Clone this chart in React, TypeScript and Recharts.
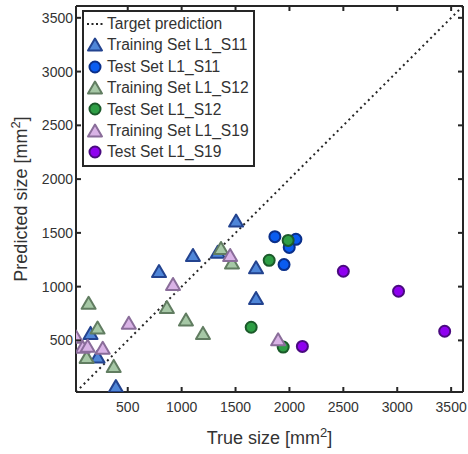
import { Label, Legend, Scatter, ScatterChart, XAxis, YAxis } from 'recharts'

const trainS11 = [
  { x: 1505, y: 1610 }, { x: 1105, y: 1290 }, { x: 790, y: 1140 }, { x: 1335, y: 1320 },
  { x: 1690, y: 1175 }, { x: 1690, y: 890 }, { x: 155, y: 565 }, { x: 220, y: 345 },
  { x: 390, y: 70 },
]
const testS11 = [
  { x: 1865, y: 1465 }, { x: 2060, y: 1440 }, { x: 1998, y: 1365 }, { x: 1950, y: 1205 },
]
const trainS12 = [
  { x: 1365, y: 1355 }, { x: 1467, y: 1220 }, { x: 137, y: 845 }, { x: 863, y: 805 },
  { x: 1040, y: 690 }, { x: 1198, y: 565 }, { x: 220, y: 615 }, { x: 119, y: 342 },
  { x: 370, y: 258 },
]
const testS12 = [
  { x: 1988, y: 1430 }, { x: 1812, y: 1245 }, { x: 1645, y: 622 }, { x: 1942, y: 438 },
]
const trainS19 = [
  { x: 1450, y: 1290 }, { x: 920, y: 1020 }, { x: 510, y: 660 }, { x: 22, y: 530 },
  { x: 82, y: 437 }, { x: 128, y: 446 }, { x: 268, y: 427 }, { x: 1895, y: 505 },
]
const testS19 = [
  { x: 2500, y: 1143 }, { x: 3012, y: 957 }, { x: 3440, y: 585 }, { x: 2120, y: 444 },
]

const ticks = [500, 1000, 1500, 2000, 2500, 3000, 3500]
const domain: [number, number] = [20, 3610]
const targetLine = [{ x: 20, y: 20 }, { x: 3610, y: 3610 }]

const ink = '#262626'
const textInk = '#333'
const font = '"Liberation Sans", Arial, sans-serif'

const series = [
  { name: 'Training Set L1_S11', data: trainS11, shape: 'tri', fill: '#4f86d8', stroke: '#23438f' },
  { name: 'Test Set L1_S11', data: testS11, shape: 'dot', fill: '#0a5cf0', stroke: '#0a2f8a' },
  { name: 'Training Set L1_S12', data: trainS12, shape: 'tri', fill: '#a6c8a6', stroke: '#617d61' },
  { name: 'Test Set L1_S12', data: testS12, shape: 'dot', fill: '#2e9e45', stroke: '#1b5a2a' },
  { name: 'Training Set L1_S19', data: trainS19, shape: 'tri', fill: '#d9b3e6', stroke: '#8a6d9a' },
  { name: 'Test Set L1_S19', data: testS19, shape: 'dot', fill: '#8f00f0', stroke: '#4a0a80' },
]

const marker = (kind: string, fill: string, stroke: string, cx: number, cy: number) =>
  kind === 'tri' ? (
    <path d={`M${cx},${cy - 6.5} L${cx + 7},${cy + 5.5} L${cx - 7},${cy + 5.5} Z`} fill={fill} stroke={stroke} strokeWidth={2} strokeLinejoin="round" />
  ) : (
    <circle cx={cx} cy={cy} r={5.5} fill={fill} stroke={stroke} strokeWidth={2} />
  )

const BottomTick = ({ x, y, payload }: any) => (
  <g>
    <line x1={x} y1={y} x2={x} y2={y - 5} stroke={ink} strokeWidth={2} />
    <text x={x} y={y + 20} textAnchor="middle" fontSize={14} fill={textInk} fontFamily={font}>{payload.value}</text>
  </g>
)
const LeftTick = ({ x, y, payload }: any) => (
  <g>
    <line x1={x} y1={y} x2={x + 5} y2={y} stroke={ink} strokeWidth={2} />
    <text x={x - 3} y={y + 5} textAnchor="end" fontSize={14} fill={textInk} fontFamily={font}>{payload.value}</text>
  </g>
)
const TopTick = ({ x, y }: any) => <line x1={x} y1={y} x2={x} y2={y + 5} stroke={ink} strokeWidth={2} />
const RightTick = ({ x, y }: any) => <line x1={x} y1={y} x2={x - 5} y2={y} stroke={ink} strokeWidth={2} />

function LegendBox() {
  return (
    <div style={{ border: `2px solid ${ink}`, background: '#fff', padding: '1px 4px 2px 3px', fontFamily: font, fontSize: 15.6, color: textInk, lineHeight: '21.4px', whiteSpace: 'nowrap' }}>
      <div style={{ display: 'flex', alignItems: 'center' }}>
        <svg width={18} height={14}><line x1={0} y1={7} x2={16} y2={7} stroke={ink} strokeWidth={2} strokeDasharray="2 2.5" /></svg>
        <span style={{ marginLeft: 2 }}>Target prediction</span>
      </div>
      {series.map((s) => (
        <div key={s.name} style={{ display: 'flex', alignItems: 'center' }}>
          <svg width={18} height={16}>{marker(s.shape, s.fill, s.stroke, 8, 8)}</svg>
          <span style={{ marginLeft: 2 }}>{s.name}</span>
        </div>
      ))}
    </div>
  )
}

export default function App() {
  return (
    <div style={{ position: 'absolute', left: 0, top: 0, background: '#fff' }}>
      <ScatterChart width={468} height={454} margin={{ top: 5, right: 4, bottom: 0, left: 0 }}>
        <XAxis type="number" dataKey="x" domain={domain} ticks={ticks} allowDataOverflow height={62}
          axisLine={{ stroke: ink, strokeWidth: 2 }} tickLine={false} tickSize={0} tickMargin={0} tick={<BottomTick />}>
          <Label content={({ viewBox }: any) => (
            <text x={viewBox.x + viewBox.width / 2} y={viewBox.y + 52} textAnchor="middle" fontSize={18} fill={textInk} fontFamily={font}>
              True size [mm<tspan dy={-7} fontSize={13}>2</tspan><tspan dy={7}>]</tspan>
            </text>
          )} />
        </XAxis>
        <YAxis type="number" dataKey="y" domain={domain} ticks={ticks} allowDataOverflow width={76}
          axisLine={{ stroke: ink, strokeWidth: 2 }} tickLine={false} tickSize={0} tickMargin={0} tick={<LeftTick />}>
          <Label content={({ viewBox }: any) => {
            const cx = viewBox.x + 27
            const cy = viewBox.y + viewBox.height / 2
            return (
              <text x={cx} y={cy} transform={`rotate(-90 ${cx} ${cy})`} textAnchor="middle" fontSize={18} fill={textInk} fontFamily={font}>
                Predicted size [mm<tspan dy={-7} fontSize={13}>2</tspan><tspan dy={7}>]</tspan>
              </text>
            )
          }} />
        </YAxis>
        <XAxis xAxisId="top" orientation="top" type="number" dataKey="x" domain={domain} ticks={ticks} allowDataOverflow height={1}
          axisLine={{ stroke: ink, strokeWidth: 2 }} tickLine={false} tickSize={0} tickMargin={0} tick={<TopTick />} />
        <YAxis yAxisId="right" orientation="right" type="number" dataKey="y" domain={domain} ticks={ticks} allowDataOverflow width={1}
          axisLine={{ stroke: ink, strokeWidth: 2 }} tickLine={false} tickSize={0} tickMargin={0} tick={<RightTick />} />
        <Scatter xAxisId="top" yAxisId="right" name="Target prediction" data={targetLine} isAnimationActive={false}
          line={{ stroke: ink, strokeWidth: 2, strokeDasharray: '2 3.5' }} shape={() => <g />} legendType="none" />
        {series.map((s) => (
          <Scatter key={s.name} name={s.name} data={s.data} isAnimationActive={false}
            shape={(p: any) => marker(s.shape, s.fill, s.stroke, p.cx, p.cy)} />
        ))}
        <Legend layout="vertical" align="center" verticalAlign="middle" content={<LegendBox />}
          wrapperStyle={{ left: 82, top: 10, width: 'auto' }} />
      </ScatterChart>
    </div>
  )
}
